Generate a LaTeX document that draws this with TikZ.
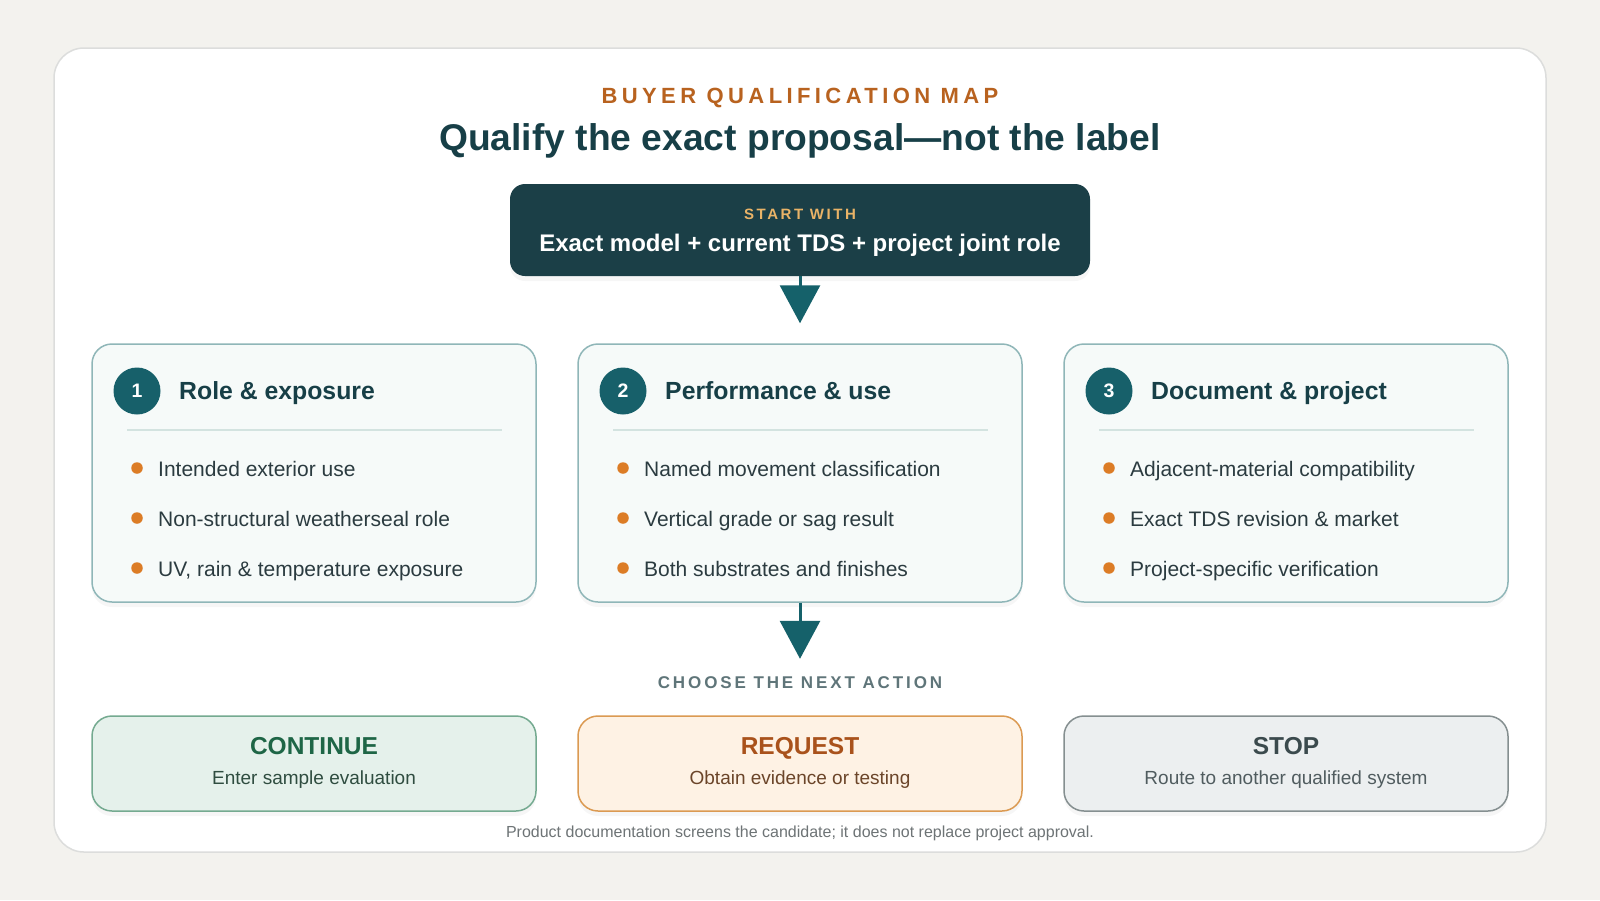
\documentclass[tikz,border=0pt]{standalone}
\usepackage{fontspec}
\setmainfont{Liberation Sans}
\usetikzlibrary{arrows.meta,positioning,shadows}

\definecolor{pagebg}{HTML}{F3F2EE}
\definecolor{sheetline}{HTML}{DCDDDC}
\definecolor{ink}{HTML}{173F47}
\definecolor{accent}{HTML}{B8621F}
\definecolor{startfill}{HTML}{1B3F47}
\definecolor{startkicker}{HTML}{E9B367}
\definecolor{flowc}{HTML}{15616A}
\definecolor{panelfill}{HTML}{F6FAF9}
\definecolor{panelline}{HTML}{8FB6B8}
\definecolor{numc}{HTML}{17606A}
\definecolor{sepc}{HTML}{D3E3E0}
\definecolor{dotc}{HTML}{DC7C26}
\definecolor{bodyc}{HTML}{2B3B40}
\definecolor{mutec}{HTML}{5F7579}
\definecolor{footc}{HTML}{6E7476}
\definecolor{gofill}{HTML}{E5F1EB}
\definecolor{goline}{HTML}{74AA90}
\definecolor{gotitle}{HTML}{1E6646}
\definecolor{gotext}{HTML}{2F4D40}
\definecolor{askfill}{HTML}{FEF2E4}
\definecolor{askline}{HTML}{DB9A52}
\definecolor{asktitle}{HTML}{A9521B}
\definecolor{asktext}{HTML}{6B4529}
\definecolor{haltfill}{HTML}{ECEFF0}
\definecolor{haltline}{HTML}{858F90}
\definecolor{halttitle}{HTML}{3B4A4D}
\definecolor{halttext}{HTML}{505C5F}

\tikzset{
  softshadow/.style={drop shadow={opacity=0.07, shadow xshift=0pt, shadow yshift=-5pt}},
  sheet/.style={draw=sheetline, fill=white, line width=1.5pt, rounded corners=30pt,
    minimum width=1492pt, minimum height=804pt},
  kicker/.style={inner sep=0pt, font=\fontsize{22}{26}\selectfont\bfseries\addfontfeature{LetterSpace=20}},
  bigtitle/.style={inner sep=0pt, text=ink, font=\fontsize{37.2}{42}\selectfont\bfseries},
  startbox/.style={fill=startfill, rounded corners=15pt, minimum width=580pt,
    minimum height=92pt, softshadow},
  panel/.style={draw=panelline, fill=panelfill, line width=1.5pt, rounded corners=20pt,
    minimum width=444pt, minimum height=258pt, softshadow},
  badge/.style={circle, fill=numc, minimum size=47pt, inner sep=0pt, text=white,
    font=\fontsize{19.5}{19}\selectfont\bfseries},
  paneltitle/.style={anchor=base west, inner sep=0pt, text=ink,
    font=\fontsize{24.8}{28}\selectfont\bfseries},
  sepline/.style={draw=sepc, line width=1.5pt},
  bulletdot/.style={circle, fill=dotc, minimum size=11.5pt, inner sep=0pt},
  bullettext/.style={anchor=base west, inner sep=0pt, text=bodyc,
    font=\fontsize{21}{24}\selectfont},
  flow/.style={draw=flowc, line width=3pt, -{Triangle[width=40pt,length=38pt]}},
  action/.style={line width=1.5pt, rounded corners=20pt, minimum width=444pt,
    minimum height=95pt, softshadow},
  acttitle/.style={anchor=base, inner sep=0pt, font=\fontsize{24.5}{28}\selectfont\bfseries},
  acttext/.style={anchor=base, inner sep=0pt, font=\fontsize{19}{22}\selectfont},
}

\begin{document}
\begin{tikzpicture}[x=1pt,y=-1pt]
  \fill[pagebg] (0,0) rectangle (1600,900);
  \useasboundingbox (0,0) rectangle (1600,900);
  \node[sheet] (sheet) at (800,450) {};

  % header
  \node[kicker, text=accent] (kick) at (800,98) {BUYER QUALIFICATION MAP};
  \node[bigtitle] (head) at (800,141) {Qualify the exact proposal—not the label};

  % starting point
  \node[startbox] (start) at (800,230) {};
  \node[kicker, text=startkicker, font=\fontsize{15}{18}\selectfont\bfseries\addfontfeature{LetterSpace=17}]
    (startk) at (800,214) {START WITH};
  \node[inner sep=0pt, text=white, font=\fontsize{24}{28}\selectfont\bfseries]
    (startt) at (800,245) {Exact model + current TDS + project joint role};

  % three checks
  \foreach \n/\cx/\title/\ia/\ib/\ic in {
    1/314/{Role \& exposure}/{Intended exterior use}/{Non-structural weatherseal role}/{UV, rain \& temperature exposure},
    2/800/{Performance \& use}/{Named movement classification}/{Vertical grade or sag result}/{Both substrates and finishes},
    3/1286/{Document \& project}/{Adjacent-material compatibility}/{Exact TDS revision \& market}/{Project-specific verification}}{
    \node[panel] (card\n) at (\cx,473) {};
    \node[badge] (badge\n) at (\cx-177,391) {\n};
    \node[paneltitle] (title\n) at (\cx-135,399.5) {\title};
    \draw[sepline] (\cx-187,430) -- (\cx+188,430);
    \node[bulletdot] (dot\n-1) at (\cx-177,468) {};
    \node[bullettext] (txt\n-1) at (\cx-156,476) {\ia};
    \node[bulletdot] (dot\n-2) at (\cx-177,518) {};
    \node[bullettext] (txt\n-2) at (\cx-156,526) {\ib};
    \node[bulletdot] (dot\n-3) at (\cx-177,568) {};
    \node[bullettext] (txt\n-3) at (\cx-156,576) {\ic};
  }

  % next action
  \node[inner sep=0pt, text=mutec, font=\fontsize{17}{20}\selectfont\bfseries\addfontfeature{LetterSpace=17}]
    (choose) at (800,683) {CHOOSE THE NEXT ACTION};

  \node[action, draw=goline, fill=gofill] (go) at (314,763.5) {};
  \node[acttitle, text=gotitle] (go-t) at (314,754) {CONTINUE};
  \node[acttext, text=gotext] (go-s) at (314,784) {Enter sample evaluation};

  \node[action, draw=askline, fill=askfill] (ask) at (800,763.5) {};
  \node[acttitle, text=asktitle] (ask-t) at (800,754) {REQUEST};
  \node[acttext, text=asktext] (ask-s) at (800,784) {Obtain evidence or testing};

  \node[action, draw=haltline, fill=haltfill] (halt) at (1286,763.5) {};
  \node[acttitle, text=halttitle] (halt-t) at (1286,754) {STOP};
  \node[acttext, text=halttext] (halt-s) at (1286,784) {Route to another qualified system};

  \node[anchor=base, inner sep=0pt, text=footc, font=\fontsize{16}{18}\selectfont] (foot) at (800,837.5)
    {Product documentation screens the candidate; it does not replace project approval.};

  % connectors
  \draw[flow, shorten >=20pt] (start) -- (card2);
  \draw[flow, shorten >=18pt] (card2) -- (choose);
\end{tikzpicture}
\end{document}
